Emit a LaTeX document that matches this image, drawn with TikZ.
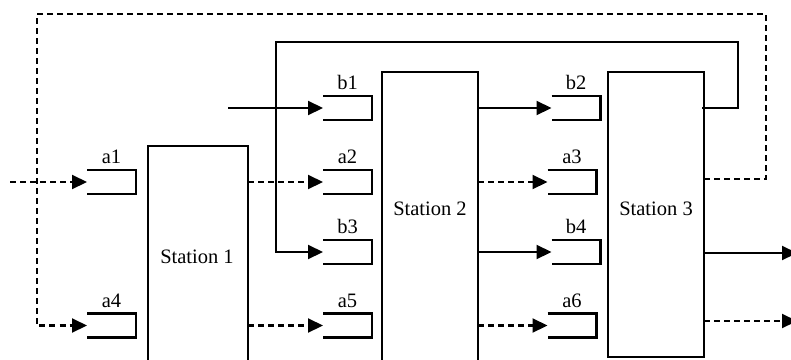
\documentclass[tikz,border=0pt]{standalone}
\usepackage{fontspec}
\setmainfont{Liberation Serif}
\usetikzlibrary{arrows.meta}
\begin{document}
\begin{tikzpicture}[x=1pt,y=-1pt,
  every node/.style={font=\fontsize{20.5}{24}\selectfont},
  station/.style={draw,line width=2.1pt,rectangle,inner sep=0pt,outer sep=0pt},
  buf/.style={rectangle,inner sep=0pt,outer sep=0pt,minimum width=49pt,minimum height=24pt},
  buflabel/.style={label={[inner sep=0pt,label distance=6pt]above:#1}},
  flow/.style={line width=2.1pt,-{Triangle[length=15pt,width=14pt]}},
  dflow/.style={flow,dash pattern=on 6pt off 4pt},
  loopline/.style={line width=2.1pt},
  dloopline/.style={loopline,dash pattern=on 6pt off 4pt},
  bufline/.style={line width=2.1pt}]
\useasboundingbox (0,0) rectangle (791,359);

% stations
\node[station,minimum width=100pt,minimum height=224pt] (s1) at (198,258) {};
\node[station,minimum width=96pt,minimum height=300pt] (s2) at (430,222) {};
\node[station,minimum width=96pt,minimum height=285pt] (s3) at (656,214.5) {};
\node (t1) at (197,257) {Station 1};
\node (t2) at (430,209) {Station 2};
\node (t3) at (656,209) {Station 3};

% buffers
\node[buf,buflabel=a1] (a1) at (111.5,182) {};
\node[buf,buflabel=a4] (a4) at (111.5,325.5) {};
\node[buf,buflabel=b1] (b1) at (347.5,108) {};
\node[buf,buflabel=a2] (a2) at (347.5,182) {};
\node[buf,buflabel=b3] (b3) at (347.5,252) {};
\node[buf,buflabel=a5] (a5) at (347.5,325.5) {};
\node[buf,buflabel=b2] (b2) at (576,108) {};
\node[buf,buflabel=a3] (a3) at (572,182) {};
\node[buf,buflabel=b4] (b4) at (576,252) {};
\node[buf,buflabel=a6] (a6) at (572,325.5) {};
\foreach \b in {a1,a4,b1,a2,b3,a5,b2,a3,b4,a6}
  \draw[bufline] (\b.north west) -- (\b.north east) -- (\b.south east) -- (\b.south west);

% free ends
\coordinate (ina1) at (10,182);
\coordinate (inb1) at (228,108);
\coordinate (out1) at (797,253);
\coordinate (out2) at (797,321);

% inputs
\draw[dflow] (ina1) -- (a1.west);
\draw[flow] (inb1) -- (b1.west);

% station 1 outputs
\draw[dflow] (s1.east |- a2) -- (a2.west);
\draw[dflow] (s1.east |- a5) -- (a5.west);

% station 2 outputs
\draw[flow] (s2.east |- b2) -- (b2.west);
\draw[dflow] (s2.east |- a3) -- (a3.west);
\draw[flow] (s2.east |- b4) -- (b4.west);
\draw[dflow] (s2.east |- a6) -- (a6.west);

% station 3 outputs
\draw[flow] (s3.east |- out1) -- (out1);
\draw[dflow] (s3.east |- out2) -- (out2);

% solid feedback loop
\draw[loopline,-{Triangle[length=15pt,width=14pt]}] ([xshift=-2pt]s3.east |- b2) -- (738,108) -- (738,42) -- (276,42) -- (276,252) -- (b3.west);

% dashed feedback loop
\draw[dloopline,-{Triangle[length=15pt,width=14pt]}] (s3.east |- 0,179) -- (766,179) -- (766,14) -- (37,14) -- (37,325.5) -- (a4.west);
\end{tikzpicture}
\end{document}
